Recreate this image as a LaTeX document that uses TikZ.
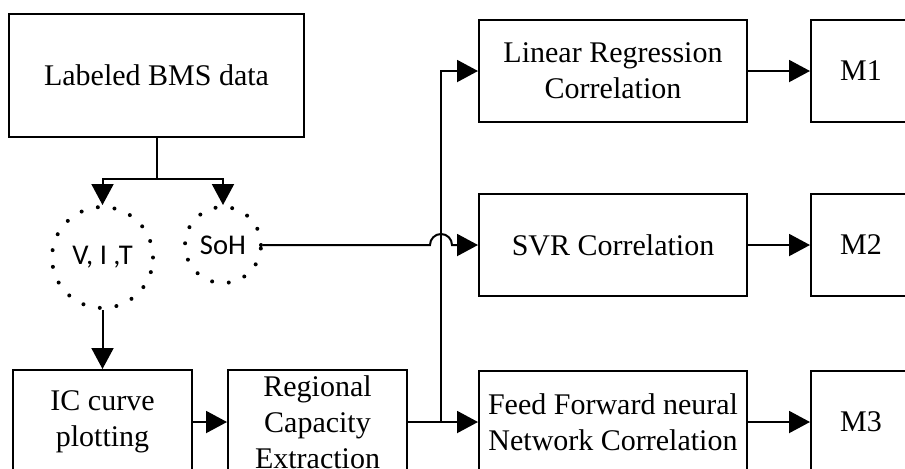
\documentclass[tikz,border=0pt]{standalone}
\usepackage{fontspec}
\setmainfont{Liberation Serif}
\newfontfamily\dotfont{Carlito}
\usetikzlibrary{positioning, arrows.meta}

\begin{document}
\begin{tikzpicture}[
    x=0.5pt, y=-0.5pt,
    line width=1pt,
    every node/.style={font=\fontsize{15}{18}\selectfont},
    box/.style={draw, align=center, inner sep=2pt,
                minimum width=134pt, minimum height=51pt},
    small/.style={box, inner sep=0pt, minimum width=89.5pt, minimum height=52pt},
    mbox/.style={box, minimum width=50pt, minimum height=51pt},
    dotc/.style={circle, draw, line width=2pt, line cap=round,
                 dash pattern=on 0pt off 8.4pt, inner sep=0pt,
                 font=\dotfont\fontsize{14.3}{16}\selectfont},
    link/.style={-{Triangle[length=10.5pt, width=11pt]}},
  ]
    \path[use as bounding box] (0,0) rectangle (905,468);
    \clip (0,0) rectangle (905,468);

    % input side
    \node[box, minimum width=147.5pt, minimum height=61.5pt] (bms) at (156.5,75.5)
      {Labeled BMS data};
    \node[small] (ic) at (102.5,422) {IC curve\\ plotting};
    \node[small, right=17pt of ic] (reg) {Regional\\ Capacity\\ Extraction};
    \node[dotc, minimum size=50.5pt, above=29.5pt of ic] (vit) {V, I ,T};
    \node[dotc, minimum size=38pt] (soh) at (223,245) {SoH};

    % correlation models
    \node[box] (lin) at (613,71) {Linear Regression\\ Correlation};
    \node[box, below=35pt of lin] (svr) {SVR Correlation};
    \node[box, below=36.5pt of svr] (ffn) {Feed Forward neural\\ Network Correlation};
    \node[mbox, right=31pt of lin] (m1) {M1};
    \node[mbox, right=31pt of svr] (m2) {M2};
    \node[mbox, right=31pt of ffn] (m3) {M3};

    \coordinate[below=20.5pt of bms.south] (fork);
    \coordinate[right=16.5pt of reg.east] (tap);

    % edges
    \draw (bms.south) -- (fork);
    \draw[link] (fork) -| (vit.north);
    \draw[link] (fork) -| (soh.north);
    \draw[link] (vit.south) -- (ic.north);
    \draw[link] (ic) -- (reg);
    \draw[link] (reg.east) -- (ffn.west);
    \draw[link] (tap) |- (lin.west);
    \draw[link] (soh.east) -- ([xshift=-5.5pt]tap |- soh.east)
      arc[start angle=180, end angle=0, radius=5.5pt] -- (svr.west);
    \draw[link] (lin) -- (m1);
    \draw[link] (svr) -- (m2);
    \draw[link] (ffn) -- (m3);
\end{tikzpicture}
\end{document}
